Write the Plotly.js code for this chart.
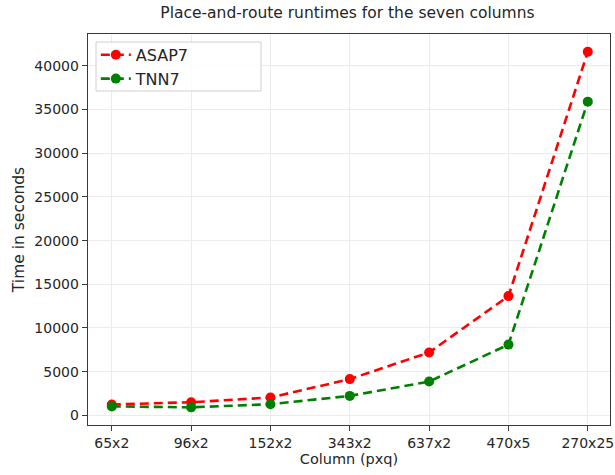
<!DOCTYPE html>
<html>
<head>
<meta charset="utf-8">
<script src="https://cdn.plot.ly/plotly-3.0.1.min.js"></script>
<style>html,body{margin:0;padding:0;background:#fff;}#chart{width:615px;height:475px;}</style>
</head>
<body>
<div id="chart"></div>
<script>
const columns = ["65x2", "96x2", "152x2", "343x2", "637x2", "470x5", "270x25"];
const asap7 = [1250, 1500, 2050, 4150, 7200, 13650, 41600];
const tnn7 = [1030, 920, 1280, 2230, 3870, 8100, 35900];

const FONT = "DejaVu Sans, sans-serif";

const traces = [
  {
    x: columns, y: asap7, name: "ASAP7", type: "scatter", mode: "lines+markers",
    line: {color: "#ff0000", width: 2.6, dash: "9px,5px"},
    marker: {color: "#ff0000", size: 10, symbol: "circle"}
  },
  {
    x: columns, y: tnn7, name: "TNN7", type: "scatter", mode: "lines+markers",
    line: {color: "#008000", width: 2.6, dash: "9px,5px"},
    marker: {color: "#008000", size: 10, symbol: "circle"}
  }
];

// legend frame (matplotlib-style rounded box)
function roundRect(x0, y0, x1, y1, r) {
  return `M ${x0 + r},${y0} L ${x1 - r},${y0} Q ${x1},${y0} ${x1},${y0 + r} L ${x1},${y1 - r} Q ${x1},${y1} ${x1 - r},${y1} L ${x0 + r},${y1} Q ${x0},${y1} ${x0},${y1 - r} L ${x0},${y0 + r} Q ${x0},${y0} ${x0 + r},${y0} Z`;
}

const layout = {
  width: 615, height: 475,
  margin: {l: 88, r: 5, t: 34, b: 50, pad: 0},
  paper_bgcolor: "#ffffff", plot_bgcolor: "#ffffff",
  font: {family: FONT, size: 14, color: "#262626"},
  title: {text: "Place-and-route runtimes for the seven columns", font: {family: FONT, size: 15.5, color: "#262626"}, x: 0.565, xanchor: "center", y: 0.974, yanchor: "middle"},
  showlegend: true,
  legend: {
    x: 0.015, y: 0.99, xanchor: "left", yanchor: "top",
    bgcolor: "rgba(0,0,0,0)", borderwidth: 0,
    font: {family: FONT, size: 16, color: "#262626"}, itemwidth: 30, tracegroupgap: 0
  },
  shapes: [
    {
      type: "path", xref: "x domain", yref: "y domain", layer: "above",
      path: "",
      line: {color: "#d0d0d0", width: 1}, fillcolor: "rgba(255,255,255,0.85)"
    }
  ],
  xaxis: {
    type: "category", range: [-0.3, 6.28],
    showgrid: true, gridcolor: "#ebebeb", gridwidth: 1,
    showline: true, linecolor: "#3a3a3a", linewidth: 1.3, mirror: true,
    ticks: "outside", ticklen: 5, tickcolor: "#3a3a3a", tickwidth: 1,
    tickfont: {family: FONT, size: 14, color: "#262626"},
    zeroline: false,
    title: {text: "Column (pxq)", font: {family: FONT, size: 14.5, color: "#262626"}, standoff: 3}
  },
  yaxis: {
    range: [-1100, 43640], dtick: 5000, tick0: 0, tickformat: "d",
    showgrid: true, gridcolor: "#ebebeb", gridwidth: 1,
    showline: true, linecolor: "#3a3a3a", linewidth: 1.3, mirror: true,
    ticks: "outside", ticklen: 5, tickcolor: "#3a3a3a", tickwidth: 1,
    tickfont: {family: FONT, size: 14, color: "#262626"},
    zeroline: false,
    title: {text: "Time in seconds", font: {family: FONT, size: 15.5, color: "#262626"}, standoff: 6}
  }
};

// Box in domain fractions: plot area 88..610 px wide, 34..425 px tall
const pw = 522, ph = 391;
const bx0 = 8 / pw, bx1 = 173 / pw, by0 = (425 - 91) / ph, by1 = (425 - 42) / ph;
const r = 0.008;
layout.shapes[0].type = "rect";
layout.shapes[0].x0 = bx0; layout.shapes[0].x1 = bx1;
layout.shapes[0].y0 = by0; layout.shapes[0].y1 = by1;
delete layout.shapes[0].path;

Plotly.newPlot("chart", traces, layout, {displayModeBar: false, staticPlot: true});
</script>
</body>
</html>
